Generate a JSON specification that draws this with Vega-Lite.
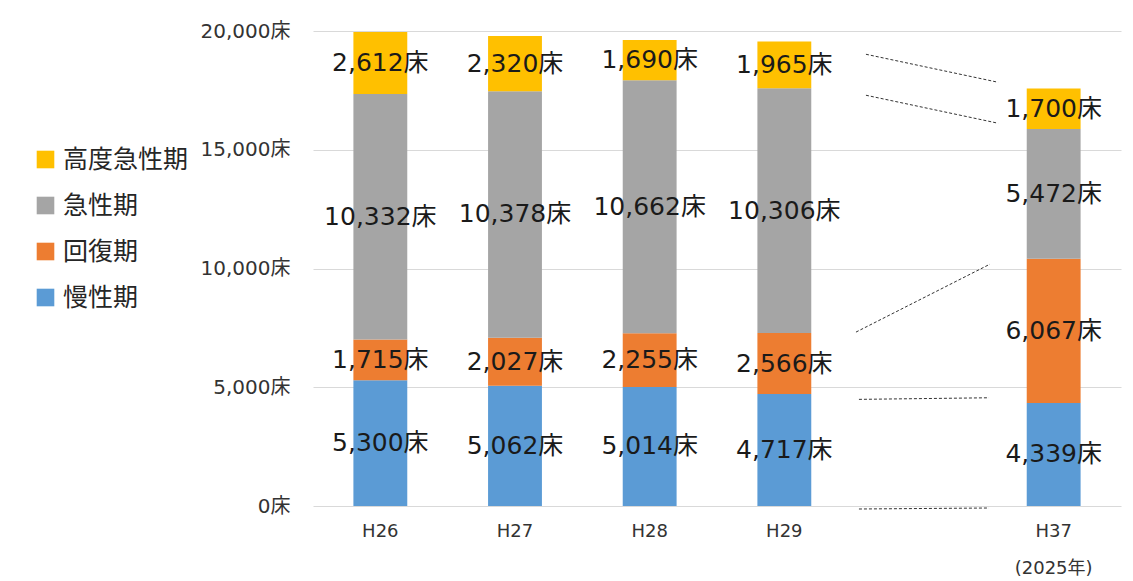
{
  "$schema": "https://vega.github.io/schema/vega-lite/v6.json",
  "width": 808,
  "height": 475,
  "autosize": "none",
  "padding": {"left": 313, "top": 31, "right": 12, "bottom": 75},
  "background": "white",
  "config": {
    "view": {"stroke": null},
    "font": "DejaVu Sans, Noto Sans CJK JP"
  },
  "datasets": {
    "beds": [
      {"period": "H26", "stage": "慢性期", "order": 1, "value": 5300},
      {"period": "H26", "stage": "回復期", "order": 2, "value": 1715},
      {"period": "H26", "stage": "急性期", "order": 3, "value": 10332},
      {"period": "H26", "stage": "高度急性期", "order": 4, "value": 2612},
      {"period": "H27", "stage": "慢性期", "order": 1, "value": 5062},
      {"period": "H27", "stage": "回復期", "order": 2, "value": 2027},
      {"period": "H27", "stage": "急性期", "order": 3, "value": 10378},
      {"period": "H27", "stage": "高度急性期", "order": 4, "value": 2320},
      {"period": "H28", "stage": "慢性期", "order": 1, "value": 5014},
      {"period": "H28", "stage": "回復期", "order": 2, "value": 2255},
      {"period": "H28", "stage": "急性期", "order": 3, "value": 10662},
      {"period": "H28", "stage": "高度急性期", "order": 4, "value": 1690},
      {"period": "H29", "stage": "慢性期", "order": 1, "value": 4717},
      {"period": "H29", "stage": "回復期", "order": 2, "value": 2566},
      {"period": "H29", "stage": "急性期", "order": 3, "value": 10306},
      {"period": "H29", "stage": "高度急性期", "order": 4, "value": 1965},
      {"period": "H37", "stage": "慢性期", "order": 1, "value": 4339},
      {"period": "H37", "stage": "回復期", "order": 2, "value": 6067},
      {"period": "H37", "stage": "急性期", "order": 3, "value": 5472},
      {"period": "H37", "stage": "高度急性期", "order": 4, "value": 1700}
    ],
    "links": [
      {"x1": 4.106, "y1": 19020, "x2": 5.087, "y2": 17842},
      {"x1": 4.106, "y1": 17295, "x2": 5.087, "y2": 16117},
      {"x1": 4.032, "y1": 7322, "x2": 5.027, "y2": 10183},
      {"x1": 4.054, "y1": 4490, "x2": 5.02, "y2": 4557},
      {"x1": 4.054, "y1": -126, "x2": 5.02, "y2": -84}
    ]
  },
  "layer": [
    {
      "data": {"name": "beds"},
      "mark": {"type": "bar"},
      "encoding": {
        "x": {
          "field": "period",
          "type": "nominal",
          "scale": {"domain": ["H26", "H27", "H28", "H29", "gap", "H37"], "paddingInner": 0.6, "paddingOuter": 0.3},
          "axis": {
            "title": null,
            "labelAngle": 0,
            "domain": false,
            "ticks": false,
            "labelFontSize": 18,
            "labelColor": "#333333",
            "labelPadding": 16,
            "labelLineHeight": 37,
            "labelExpr": "datum.value == 'gap' ? '' : (datum.value == 'H37' ? ['H37', '(2025年)'] : datum.value)"
          }
        },
        "y": {
          "field": "value",
          "type": "quantitative",
          "stack": "zero",
          "scale": {"domain": [0, 20000], "nice": false},
          "axis": {
            "title": null,
            "values": [0, 5000, 10000, 15000, 20000],
            "domain": false,
            "ticks": false,
            "grid": true,
            "gridColor": "#D9D9D9",
            "gridWidth": 1,
            "labelFontSize": 20,
            "labelColor": "#333333",
            "labelPadding": 23,
            "labelExpr": "format(datum.value, ',') + '床'"
          }
        },
        "order": {"field": "order", "type": "quantitative"},
        "color": {
          "field": "stage",
          "type": "nominal",
          "scale": {
            "domain": ["高度急性期", "急性期", "回復期", "慢性期"],
            "range": ["#FFC000", "#A5A5A5", "#ED7D31", "#5B9BD5"]
          },
          "legend": {
            "title": null,
            "orient": "none",
            "legendX": -280,
            "legendY": 116,
            "symbolType": "square",
            "symbolSize": 310,
            "symbolStrokeWidth": 0,
            "labelFont": "Noto Sans CJK JP",
            "labelFontSize": 25,
            "labelColor": "#262626",
            "labelOffset": 5,
            "rowPadding": 20
          }
        }
      }
    },
    {
      "data": {"name": "beds"},
      "transform": [
        {"stack": "value", "groupby": ["period"], "sort": [{"field": "order"}], "as": ["v0", "v1"]},
        {"calculate": "(datum.v0 + datum.v1) / 2", "as": "mid"},
        {"calculate": "format(datum.value, ',') + '床'", "as": "label"}
      ],
      "mark": {"type": "text", "fontSize": 25, "color": "#1a1a1a", "baseline": "middle", "align": "center"},
      "encoding": {
        "x": {"field": "period", "type": "nominal", "scale": {"domain": ["H26", "H27", "H28", "H29", "gap", "H37"], "paddingInner": 0.6, "paddingOuter": 0.3}, "axis": null},
        "y": {"field": "mid", "type": "quantitative", "scale": {"domain": [0, 20000], "nice": false}},
        "text": {"field": "label"}
      }
    },
    {
      "data": {"name": "links"},
      "mark": {"type": "rule", "strokeDash": [3, 2], "color": "#333333", "strokeWidth": 1},
      "encoding": {
        "x": {"field": "x1", "type": "quantitative", "scale": {"domain": [0, 6], "nice": false, "zero": false}, "axis": null},
        "x2": {"field": "x2"},
        "y": {"field": "y1", "type": "quantitative", "scale": {"domain": [0, 20000], "nice": false}},
        "y2": {"field": "y2"}
      }
    }
  ],
  "resolve": {"scale": {"x": "independent"}}
}
